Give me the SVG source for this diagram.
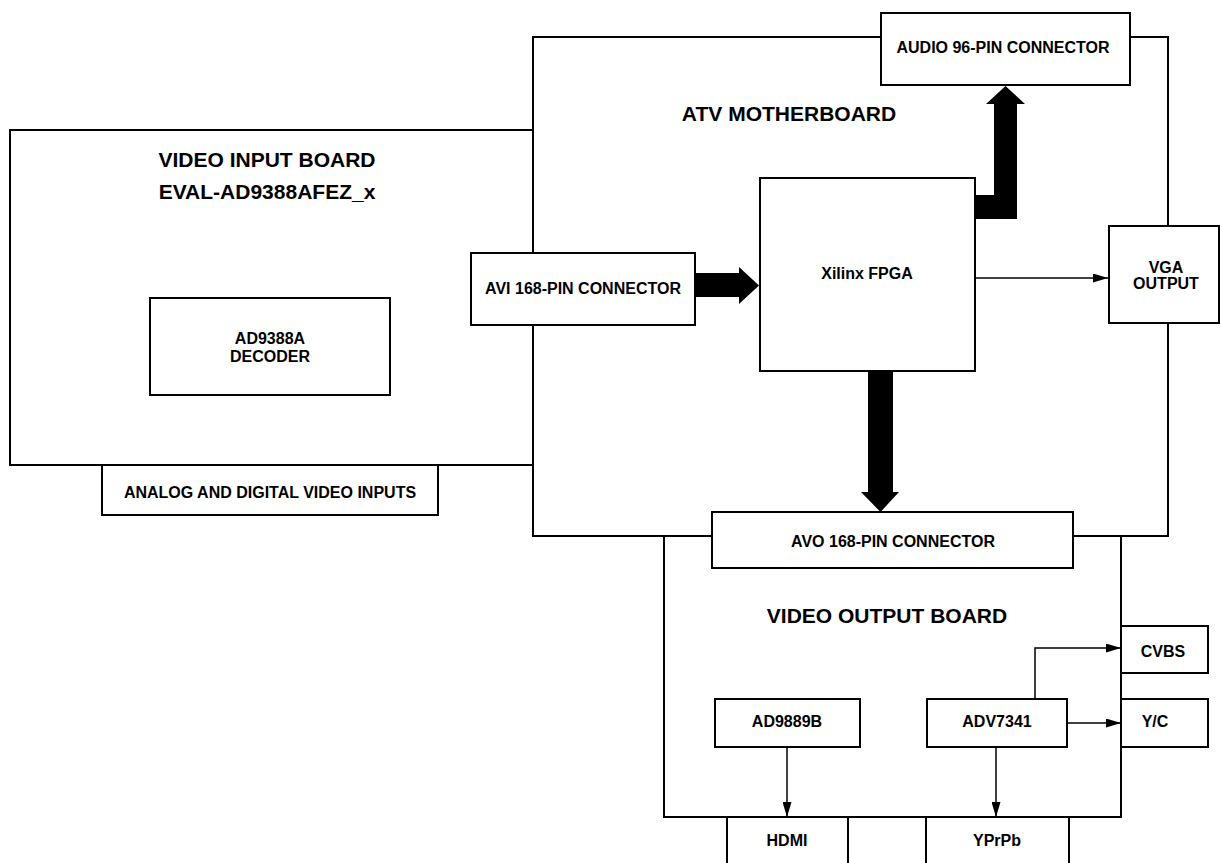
<svg xmlns="http://www.w3.org/2000/svg" width="1220" height="863" viewBox="0 0 1220 863">
<style>
.board{fill:none;stroke:#000;stroke-width:2}
.box{fill:#fff;stroke:#000;stroke-width:2}
.t{font-family:"Liberation Sans",Arial,sans-serif;font-weight:bold;font-size:16px;text-anchor:middle;fill:#000}
.h{font-family:"Liberation Sans",Arial,sans-serif;font-weight:bold;font-size:21px;text-anchor:middle;fill:#000}
.ln{fill:none;stroke:#000;stroke-width:1.5}
.bus{fill:#000;stroke:none}
</style>
<defs>
<marker id="ah" viewBox="0 0 15 9" refX="15" refY="4.5" markerWidth="15" markerHeight="9" markerUnits="userSpaceOnUse" orient="auto">
<path d="M0,0 L15,4.5 L0,9 Z" fill="#000"/>
</marker>
</defs>
<rect x="0" y="0" width="1220" height="863" fill="#fff"/>

<g id="video-input-board">
<rect class="board" x="10" y="130" width="523" height="335"/>
<text class="h" x="267" y="167">VIDEO INPUT BOARD</text>
<text class="h" x="267" y="199">EVAL-AD9388AFEZ_x</text>
</g>
<g id="atv-motherboard">
<rect class="board" x="533" y="37" width="635" height="499"/>
<text class="h" x="789" y="121">ATV MOTHERBOARD</text>
</g>
<g id="video-output-board">
<rect class="board" x="664" y="536" width="457" height="281"/>
<text class="h" x="887" y="623">VIDEO OUTPUT BOARD</text>
</g>

<g id="connectors">
<polygon class="bus" points="695,273 739,273 739,267 759,285.5 739,304 739,297 695,297"/>
<polygon class="bus" points="975,195 994,195 994,104 986,104 1005.5,86 1025,104 1017,104 1017,219 975,219"/>
<polygon class="bus" points="868,371 893,371 893,492 899,492 880.5,512 861,492 868,492"/>
<line class="ln" x1="975" y1="278" x2="1108" y2="278" marker-end="url(#ah)"/>
<polyline class="ln" points="1035,699 1035,648 1121,648" marker-end="url(#ah)"/>
<line class="ln" x1="1067" y1="723" x2="1121" y2="723" marker-end="url(#ah)"/>
<line class="ln" x1="787" y1="747" x2="787" y2="817" marker-end="url(#ah)"/>
<line class="ln" x1="996" y1="747" x2="996" y2="817" marker-end="url(#ah)"/>
</g>

<g id="ad9388a-decoder">
<rect class="box" x="150" y="298" width="240" height="97"/>
<text class="t" x="270" y="344">AD9388A</text>
<text class="t" x="270" y="362">DECODER</text>
</g>
<g id="analog-digital-inputs">
<rect class="box" x="102" y="465" width="336" height="50"/>
<text class="t" x="270" y="498">ANALOG AND DIGITAL VIDEO INPUTS</text>
</g>
<g id="avi-connector">
<rect class="box" x="471" y="253" width="224" height="72"/>
<text class="t" x="583" y="294">AVI 168-PIN CONNECTOR</text>
</g>
<g id="audio-connector">
<rect class="box" x="881" y="13" width="249" height="72"/>
<text class="t" x="1003" y="53">AUDIO 96-PIN CONNECTOR</text>
</g>
<g id="xilinx-fpga">
<rect class="box" x="760" y="178" width="215" height="193"/>
<text class="t" x="867" y="279">Xilinx FPGA</text>
</g>
<g id="vga-output">
<rect class="box" x="1109" y="226" width="110" height="97"/>
<text class="t" x="1166" y="273">VGA</text>
<text class="t" x="1166" y="289">OUTPUT</text>
</g>
<g id="avo-connector">
<rect class="box" x="712" y="512" width="361" height="56"/>
<text class="t" x="893" y="547">AVO 168-PIN CONNECTOR</text>
</g>
<g id="cvbs">
<rect class="box" x="1121" y="626" width="87" height="47"/>
<text class="t" x="1163" y="657">CVBS</text>
</g>
<g id="yc">
<rect class="box" x="1121" y="699" width="87" height="48"/>
<text class="t" x="1155" y="727">Y/C</text>
</g>
<g id="ad9889b">
<rect class="box" x="715" y="699" width="145" height="48"/>
<text class="t" x="787" y="727">AD9889B</text>
</g>
<g id="adv7341">
<rect class="box" x="927" y="699" width="140" height="48"/>
<text class="t" x="997" y="727">ADV7341</text>
</g>
<g id="hdmi">
<rect class="box" x="727" y="817" width="121" height="60"/>
<text class="t" x="787" y="846">HDMI</text>
</g>
<g id="yprpb">
<rect class="box" x="926" y="817" width="143" height="60"/>
<text class="t" x="997" y="846">YPrPb</text>
</g>
</svg>
